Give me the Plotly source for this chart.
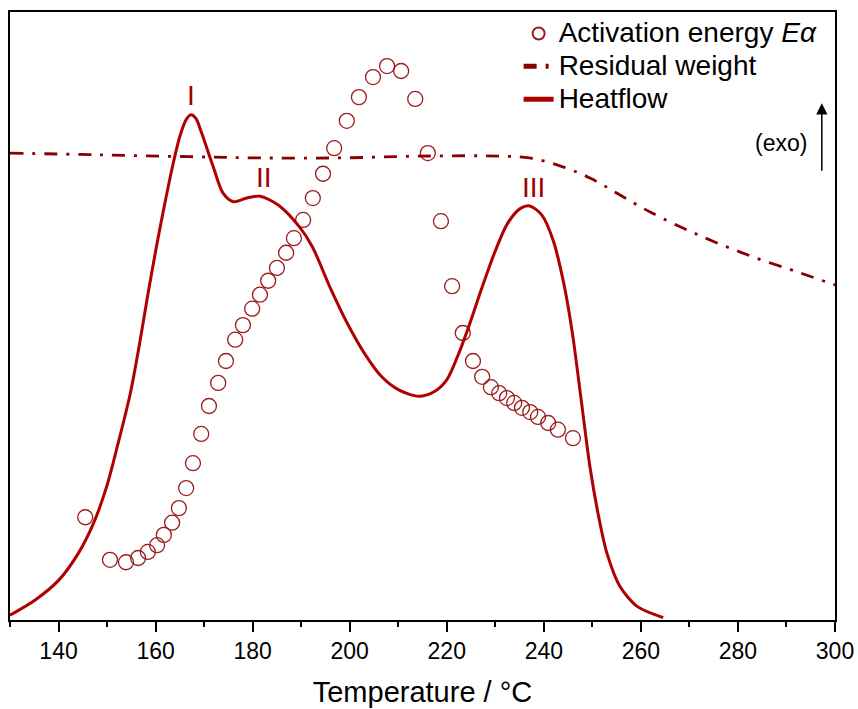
import plotly.graph_objects as go

# temperature axis in °C; all y values are in a normalised 0-100 scale (no y axis shown)
hf_temp = [130, 135.2, 140.1, 144.1, 147.2, 149.9, 152.1, 154.8, 156.6, 158.4, 160.2,
           161.9, 163.6, 165.1, 166.3, 167.3, 168.3, 169.4, 171.9, 173.9, 176, 178.8,
           181.5, 185.2, 189.6, 192.3, 195.9, 199.5, 203.0, 206.6, 210.2, 214.2, 217.3,
           220.0, 222.2, 224.5, 227.1, 229.8, 232.5, 235.2, 237.1, 239.6, 241.9, 244.1,
           245.9, 247.7, 249.5, 251.3, 253.0, 255.7, 259.3, 264.6]
heatflow = [0.8, 3.3, 6.6, 11.0, 15.9, 21.9, 28.5, 37.3, 45.0, 53.5, 61.5,
            68.5, 75.0, 79.8, 82.3, 83.1, 82.5, 80.3, 74.5, 70.2, 68.8, 69.4,
            69.7, 68.3, 64.7, 61.4, 54.8, 48.8, 43.9, 40.0, 37.8, 36.8, 37.5,
            39.5, 43.3, 48.2, 54.3, 60.3, 65.2, 67.7, 68.1, 66.6, 62.5, 55.4,
            47.1, 36.2, 25.2, 17.0, 11.0, 5.5, 2.2, 0.4]

rw_temp = [130, 148.5, 167, 181.5, 198, 214.5, 231, 237, 243.3, 249.5, 255.7,
           261.9, 272.2, 282.5, 292.8, 300]
residual = [76.8, 76.5, 76.2, 76.0, 76.0, 76.3, 76.3, 76.0, 74.7, 72.7, 69.9,
            67.1, 63.2, 59.9, 57.1, 55.1]

ea_temp = [145.5, 150.6, 153.9, 156.4, 158.4, 160.3, 161.7, 163.4, 164.8, 166.3,
           167.7, 169.4, 171.0, 172.9, 174.5, 176.4, 178.0, 179.9, 181.5, 183.2,
           185.0, 186.9, 188.5, 190.4, 192.4, 194.5, 196.8, 199.4, 201.9, 204.8,
           207.7, 210.6, 213.5, 216.1, 218.8, 221.1, 223.3, 225.4, 227.3, 229.1,
           230.8, 232.4, 233.9, 235.5, 237.2, 238.8, 240.9, 242.9, 246.0]
ea = [16.9, 9.9, 9.5, 10.2, 11.2, 12.3, 14.0, 16.0, 18.4, 21.7,
      25.8, 30.6, 35.2, 39.0, 42.6, 46.1, 48.5, 51.2, 53.5, 55.8,
      57.9, 60.4, 62.8, 65.8, 69.4, 73.4, 77.6, 82.1, 86.0, 89.3,
      91.1, 90.3, 85.7, 76.8, 65.6, 54.9, 47.2, 42.6, 40.0, 38.3,
      37.3, 36.5, 35.7, 34.9, 34.2, 33.4, 32.4, 31.3, 29.9]

peak_names = ["I", "II", "III"]
peak_temp = [167.3, 182.3, 237.8]
peak_y = [86.2, 72.7, 71.2]

FONT = "Arial, Liberation Sans, sans-serif"


def big(s):
    # legend rows are spaced by the legend font size; draw the text itself larger
    return '<span style="font-size:28px">' + s + '</span>'


fig = go.Figure()
fig.add_trace(go.Scatter(
    x=ea_temp, y=ea, mode="markers", name=big("Activation energy <i>Eα</i>"),
    marker=dict(symbol="circle-open", size=15, color="#9b1c1c", line=dict(width=1.3)),
))
fig.add_trace(go.Scatter(
    x=rw_temp, y=residual, mode="lines", name=big("Residual weight"),
    line=dict(color="#880000", width=2.8, dash="13px,9px,3px,9px", shape="spline"),
))
fig.add_trace(go.Scatter(
    x=hf_temp, y=heatflow, mode="lines", name=big("Heatflow"),
    line=dict(color="#b00000", width=3, shape="spline", smoothing=0.8),
))

for name, tx, ty in zip(peak_names, peak_temp, peak_y):
    fig.add_annotation(x=tx, y=ty, text=name, showarrow=False,
                       font=dict(size=28, color="#a00000", family=FONT))

# exo arrow
fig.add_annotation(x=0.984, y=0.850, xref="paper", yref="paper", text="",
                   showarrow=True, ax=0, ay=69, axref="pixel", ayref="pixel",
                   arrowhead=2, arrowsize=1.5, arrowwidth=1.5, arrowcolor="black")
fig.add_annotation(x=0.935, y=0.785, xref="paper", yref="paper", text="(exo)",
                   xanchor="center", yanchor="middle", showarrow=False,
                   font=dict(size=23, color="black", family=FONT))

fig.update_layout(
    width=858, height=709,
    margin=dict(l=10, r=23, t=12, b=89),
    plot_bgcolor="white", paper_bgcolor="white",
    font=dict(family=FONT, color="black"),
    showlegend=True,
    legend=dict(x=0.985, y=1.0, xanchor="right", yanchor="top",
                bgcolor="rgba(0,0,0,0)", font=dict(size=23), tracegroupgap=0,
                itemsizing="constant"),
    xaxis=dict(
        range=[130, 300], tick0=140, dtick=20, ticks="outside", ticklen=10,
        tickwidth=1.5, tickcolor="black", tickfont=dict(size=23),
        showline=True, linecolor="black", linewidth=1.5, mirror=True,
        showgrid=False, zeroline=False, automargin=False,
        minor=dict(dtick=10, tick0=130, ticks="outside", ticklen=5,
                   tickwidth=1.5, tickcolor="black", showgrid=False),
        title=dict(text="Temperature / °C", font=dict(size=29), standoff=18),
    ),
    yaxis=dict(
        range=[0, 100], showticklabels=False, ticks="", automargin=False,
        showline=True, linecolor="black", linewidth=1.5, mirror=True,
        showgrid=False, zeroline=False,
    ),
)

fig.write_html("out.html", config={"displayModeBar": False},
               post_script="document.body.style.margin='0';")
